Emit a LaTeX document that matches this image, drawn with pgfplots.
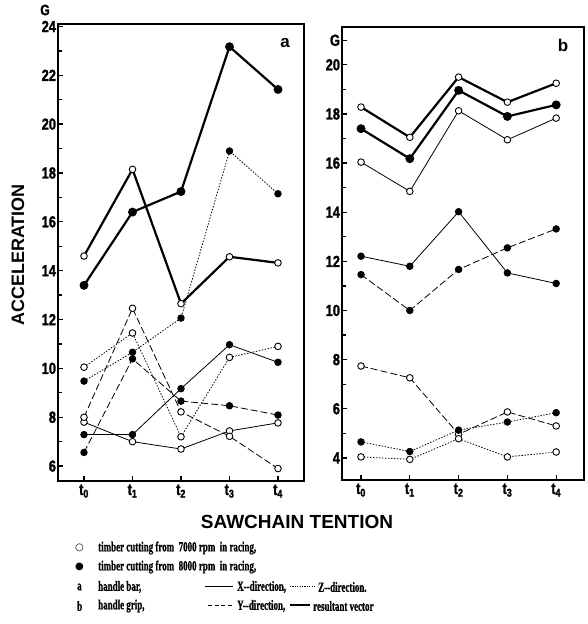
\documentclass[border=0pt]{standalone}
\usepackage{fontspec}
\setmainfont{Liberation Serif}
\newfontfamily\labfont{Liberation Sans Bold}[FakeStretch=0.8, FakeBold=1.6]
\newfontfamily\headfont{Liberation Sans Bold}
\newfontfamily\legfont{Liberation Serif Bold}[FakeStretch=0.64, FakeBold=0.8]
\newfontfamily\symfont{DejaVu Sans}
\usepackage{pgfplots}
\usepackage{pgfplotstable}
\pgfplotsset{compat=1.18}

% columns: t, X/Y/Z/resultant for 7000 rpm (o) and 8000 rpm (f)
\pgfplotstableread{
t  Xo    Xf    Yo    Yf    Zo    Zf    Ro    Rf
0  7.80  7.29  8.00  6.56  10.05 9.48  14.60 13.40
1  7.00  7.29  12.46 10.39 11.45 10.66 18.15 16.40
2  6.70  9.17  8.22  8.66  7.20  12.06 12.65 17.24
3  7.44  10.97 7.22  8.47  10.45 18.90 14.57 23.17
4  7.77  10.25 5.90  8.09  10.90 17.15 14.32 21.42
}\handlebar

\pgfplotstableread{
t  Xo    Xf    Yo    Yf    Zo    Zf    Ro    Rf
0  16.04 12.21 7.74  11.46 4.04  4.65  18.28 17.40
1  14.85 11.80 7.26  10.00 3.94  4.26  17.05 16.18
2  18.13 14.02 4.96  11.67 4.78  5.13  19.50 18.96
3  16.95 11.53 5.87  12.55 4.04  5.46  18.48 17.90
4  17.83 11.10 5.30  13.32 4.24  5.84  19.25 18.37
}\handlegrip

\pgfplotsset{
  panel/.style={
    scale only axis,
    axis line style={line width=1.5pt},
    tick align=inside,
    xtick pos=bottom, ytick pos=left,
    xtick={0,...,4},
    xticklabels={t\textsubscript{0},t\textsubscript{1},t\textsubscript{2},t\textsubscript{3},t\textsubscript{4}},
    ticklabel style={font=\labfont\fontsize{16}{16}\selectfont, text=black},
    /pgf/number format/assume math mode=true,
    yticklabel style={xshift=1.5pt},
    major tick length=5pt, minor tick length=4pt,
    every tick/.style={line width=1.3pt, black},
    minor y tick num=1,
    clip=false,
  },
  xs/.style={line width=0.8pt},
  ys/.style={line width=0.8pt, dash pattern=on 7pt off 3pt},
  zs/.style={line width=0.8pt, dash pattern=on 1.4pt off 1.6pt},
  rs/.style={line width=2.2pt},
  op/.style={mark=*, mark size=3.3pt, mark options={solid, fill=white, draw=black, line width=0.9pt}},
  cl/.style={mark=*, mark size=3.3pt, mark options={solid, fill=black, draw=black}},
}

\begin{document}
\begin{tikzpicture}[x=1pt,y=1pt]
\useasboundingbox (0pt,0pt) rectangle (587pt,624pt);

% panel a: handle bar
\begin{axis}[panel, at={(58pt,143pt)}, anchor=south west,
  width=246pt, height=457pt,
  xmin=-0.536, xmax=4.536, ymin=5.39, ymax=24.1,
  ytick={6,8,...,24}]
  \addplot[xs, op] table[x=t, y=Xo] {\handlebar};
  \addplot[xs, cl] table[x=t, y=Xf] {\handlebar};
  \addplot[ys, op] table[x=t, y=Yo] {\handlebar};
  \addplot[ys, cl] table[x=t, y=Yf] {\handlebar};
  \addplot[zs, op] table[x=t, y=Zo] {\handlebar};
  \addplot[zs, cl] table[x=t, y=Zf] {\handlebar};
  \addplot[rs, op] table[x=t, y=Ro] {\handlebar};
  \addplot[rs, cl] table[x=t, y=Rf] {\handlebar};
\end{axis}

% panel b: handle grip
\begin{axis}[panel, at={(342pt,144pt)}, anchor=south west,
  width=242pt, height=453pt,
  xmin=-0.39, xmax=4.57, ymin=3.1, ymax=21.54,
  ytick={4,6,...,20},
  extra y ticks={21}, extra y tick labels={G}]
  \addplot[xs, op] table[x=t, y=Xo] {\handlegrip};
  \addplot[xs, cl] table[x=t, y=Xf] {\handlegrip};
  \addplot[ys, op] table[x=t, y=Yo] {\handlegrip};
  \addplot[ys, cl] table[x=t, y=Yf] {\handlegrip};
  \addplot[zs, op] table[x=t, y=Zo] {\handlegrip};
  \addplot[zs, cl] table[x=t, y=Zf] {\handlegrip};
  \addplot[rs, op] table[x=t, y=Ro] {\handlegrip};
  \addplot[rs, cl] table[x=t, y=Rf] {\handlegrip};
\end{axis}

% titles and labels
\node[font=\labfont\fontsize{15}{15}\selectfont, inner sep=0pt] at (45pt,614pt) {G};
\node[font=\headfont\fontsize{17}{17}\selectfont] at (285pt,581pt) {a};
\node[font=\headfont\fontsize{17}{17}\selectfont] at (563pt,579pt) {b};
\node[font=\headfont\fontsize{18}{18}\selectfont, rotate=90] at (18pt,369pt) {ACCELERATION};
\node[font=\headfont\fontsize{19}{19}\selectfont] at (297pt,102pt) {SAWCHAIN TENTION};

% key
\begin{scope}[every node/.style={font=\legfont\fontsize{14}{14}\selectfont, anchor=west, inner sep=0pt}]
  \node at (75pt,76pt) {\symfont\fontsize{10}{10}\selectfont ○};
  \node at (98pt,76pt) {timber cutting from \ 7000\,rpm \ in racing,};
  \node at (75pt,57pt) {\symfont\fontsize{10}{10}\selectfont ●};
  \node at (98pt,57pt) {timber cutting from \ 8000\,rpm \ in racing,};
  \node at (77pt,37pt) {a};
  \node at (98pt,37pt) {handle bar,};
  \draw[line width=0.8pt] (205pt,38pt) -- (233pt,38pt);
  \node at (237pt,37pt) {X--direction,};
  \draw[line width=0.8pt, dash pattern=on 1.2pt off 1.2pt] (290pt,38pt) -- (315pt,38pt);
  \node at (318pt,37pt) {Z--direction.};
  \node at (77pt,18pt) {b};
  \node at (98pt,18pt) {handle grip,};
  \draw[line width=0.8pt, dash pattern=on 4pt off 2.5pt] (208pt,19pt) -- (233pt,19pt);
  \node at (237pt,18pt) {Y--direction,};
  \draw[line width=2.2pt] (290pt,19pt) -- (310pt,19pt);
  \node at (313pt,18pt) {resultant vector};
\end{scope}
\end{tikzpicture}
\end{document}
